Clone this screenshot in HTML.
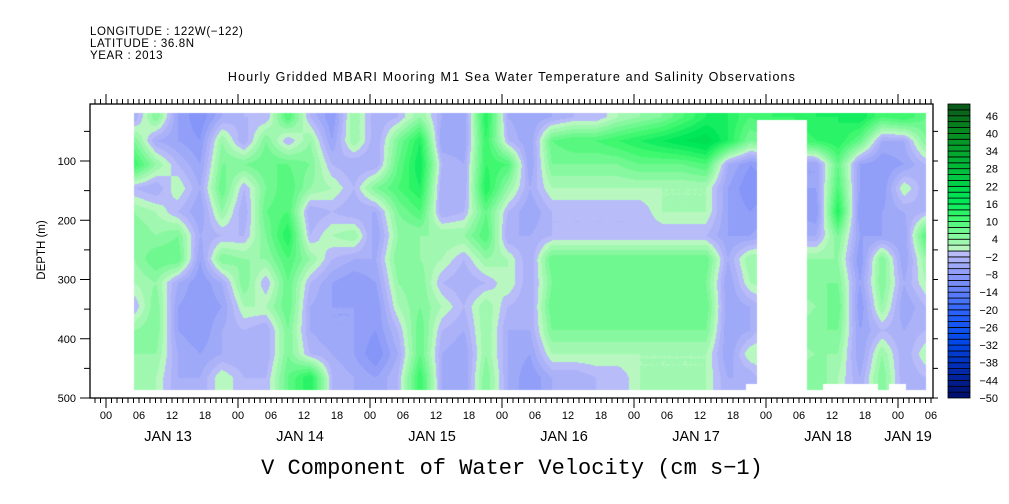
<!DOCTYPE html>
<html><head><meta charset="utf-8"><style>
html,body{margin:0;padding:0;background:#fff;}
#wrap{position:relative;width:1009px;height:504px;overflow:hidden;font-family:"Liberation Sans",sans-serif;}
#cv{position:absolute;left:0;top:0;}
svg{position:absolute;left:0;top:0;}
</style></head><body>
<div id="wrap">
<canvas id="cv" width="1009" height="504"></canvas>
<svg id="sv" width="1009" height="504">
<g font-size="11.5" fill="#000" letter-spacing="0.6">
<text x="90" y="35">LONGITUDE : 122W(−122)</text>
<text x="90" y="47">LATITUDE : 36.8N</text>
<text x="90" y="59">YEAR : 2013</text>
</g>
<text x="512" y="81" font-size="12.5" letter-spacing="1.15" text-anchor="middle">Hourly Gridded MBARI Mooring M1 Sea Water Temperature and Salinity Observations</text>
<text x="512" y="474" font-size="22" font-family="Liberation Mono,monospace" text-anchor="middle">V Component of Water Velocity (cm s−1)</text>
<text transform="translate(45,250) rotate(-90)" font-size="11.5" text-anchor="middle">DEPTH (m)</text>
<g id="axes"></g>
</svg>
</div>
<script>
// ---- data: columns every 4 hours from Jan13 05:00, rows at depths ----
const hours = [5,9,13,17,21,25,29,33,37,41,45,49,53,57,61,65,69,73,77,81,85,89,93,97,101,105,109,113,117,121,125,129,133,137,141,145,149];
const depths = [25,65,105,145,185,225,265,305,345,385,425,465];
const colProfiles = [
[-4,6,12,-2,4,6,4,2,-2,4,4,4],
[6,-4,4,-4,2,4,8,4,6,6,4,2],
[-6,-6,-2,2,-2,6,8,-4,-6,-6,-4,-4],
[-10,-8,-6,-4,-6,-4,-6,-8,-8,-8,-6,-4],
[-4,4,6,8,4,-2,6,-4,-6,-4,-4,2],
[-2,-4,6,-2,-4,-2,4,6,2,-2,-4,-2],
[-2,6,8,6,8,6,4,-2,2,-4,-4,-2],
[10,-2,8,10,10,14,10,8,8,6,6,8],
[-2,4,6,4,-4,-2,4,-2,-4,-4,-2,14],
[-8,-6,-2,2,-2,2,-2,-6,-6,-6,-4,-2],
[4,4,-4,-2,-4,4,-4,-8,-6,-6,-6,-4],
[-4,-4,-4,6,-4,-6,-4,-6,-8,-8,-10,-6],
[-2,6,8,10,6,4,6,4,2,-2,-4,-2],
[4,14,16,14,10,4,4,6,6,8,8,12],
[-4,-6,-2,-4,-4,4,2,-2,2,-2,-4,-4],
[-6,-6,-4,-4,-2,4,-2,-4,-2,-4,-6,-6],
[14,12,12,14,8,10,4,-2,4,4,4,6],
[-4,-2,10,4,-2,-4,2,2,-2,-4,-4,-4],
[-6,-6,-6,-4,-6,-4,-4,-4,-4,-4,-6,-8],
[-4,8,6,2,-2,-2,8,6,8,6,2,-4],
[-2,10,6,2,-2,-2,8,6,8,6,2,-4],
[-2,10,6,2,-2,-2,8,6,8,6,2,-2],
[2,12,6,2,-2,-2,8,6,8,6,2,-2],
[4,14,8,2,-2,-2,8,6,8,6,2,2],
[6,16,8,2,2,-2,8,6,8,6,2,2],
[10,18,8,2,2,-2,8,6,8,6,2,2],
[14,20,10,2,2,-2,8,6,8,6,2,2],
[14,14,-4,-6,-6,-6,-4,-6,-6,-6,-6,-4],
[10,6,-8,-10,-8,-6,4,2,-4,-4,2,-4],
[12,8,-6,-8,-6,-4,4,4,0,2,2,2],
[12,10,-6,-6,-6,-4,4,5,2,4,3,4],
[14,12,-6,-6,-8,-4,4,6,4,6,4,6],
[14,14,8,10,14,6,4,6,8,6,4,2],
[16,8,-6,-6,-8,-6,-8,-6,-8,-6,-6,-4],
[10,-4,-8,-8,-6,-6,6,6,4,-2,4,6],
[12,-4,-6,2,-4,-6,-6,-4,-6,-4,-4,-4],
[8,6,-2,-4,-2,10,4,2,-2,-2,2,-2]
];
const hourTickLabels = ["00","06","12","18"];
const dayLabels = ["JAN 13","JAN 14","JAN 15","JAN 16","JAN 17","JAN 18","JAN 19"];
const depthTicks = [100,200,300,400,500];
const cbarLabels = [-50,-44,-38,-32,-26,-20,-14,-8,-2,4,10,16,22,28,34,40,46];

// ---- scales ----
const X0=106, PXH=5.5;
function xOf(h){return X0+h*PXH;}
function yOf(d){return 101.75+d*0.5925;}
function hOf(x){return (x-X0)/PXH;}
function dOf(y){return (y-101.75)/0.5925;}
const FL=90, FR=933, FT=104, FB=398;

// ---- color scale ----
const posStops=[[0,[184,248,192]],[4,[136,248,160]],[10,[64,248,112]],[16,[0,232,88]],[28,[0,184,56]],[40,[8,136,32]],[50,[10,80,24]]];
const negStops=[[0,[184,188,248]],[-10,[120,140,248]],[-20,[40,96,248]],[-30,[0,72,232]],[-40,[0,40,168]],[-50,[0,10,96]]];
function interpStops(st,v){
  for(let i=0;i<st.length-1;i++){const a=st[i],b=st[i+1];
    if((v-a[0])*(v-b[0])<=0){const t=(v-a[0])/(b[0]-a[0]);return a[1].map((c,k)=>Math.round(c+(b[1][k]-c)*t));}}
  return st[st.length-1][1];
}
function binColor(lo){
  if(lo>=0) return interpStops(posStops,lo);
  return interpStops(negStops,lo+2);
}
function rgb(c){return 'rgb('+c.join(',')+')';}

// ---- heatmap ----
const cv=document.getElementById('cv'),ctx=cv.getContext('2d');
const x1=Math.round(xOf(hours[0])), x2=Math.round(xOf(hours[hours.length-1]))-1;
const y1=Math.round(yOf(depths[0]))-4, y2=389;
const img=ctx.createImageData(1009,504);
function sample(h,d){
  let ci=0;while(ci<hours.length-2&&h>hours[ci+1])ci++;
  let ri=0;while(ri<depths.length-2&&d>depths[ri+1])ri++;
  let tx=(h-hours[ci])/(hours[ci+1]-hours[ci]);tx=Math.max(0,Math.min(1,tx));
  let ty=(d-depths[ri])/(depths[ri+1]-depths[ri]);ty=Math.max(0,Math.min(1,ty));
  const a=colProfiles[ci][ri],b=colProfiles[ci+1][ri],c=colProfiles[ci][ri+1],e=colProfiles[ci+1][ri+1];
  return a*(1-tx)*(1-ty)+b*tx*(1-ty)+c*(1-tx)*ty+e*tx*ty;
}
function masked(x,y){
  if(x>=757&&x<807&&y>=120)return true;
  if(y>=384&&((x>=746&&x<757)||(x>=823&&x<878)||(x>=889&&x<906)))return true;
  return false;
}
for(let y=y1;y<=y2;y++){for(let x=x1;x<=x2;x++){
  if(masked(x,y))continue;
  const v=sample(hOf(x),dOf(y));
  const lo=Math.max(-50,Math.min(48,Math.floor(v/2)*2));
  const c=binColor(lo);const i=(y*1009+x)*4;
  img.data[i]=c[0];img.data[i+1]=c[1];img.data[i+2]=c[2];img.data[i+3]=255;
}}
ctx.putImageData(img,0,0);

// ---- axes ----
const g=document.getElementById('axes');const NS='http://www.w3.org/2000/svg';
function mk(tag,attrs,txt){const e=document.createElementNS(NS,tag);for(const k in attrs)e.setAttribute(k,attrs[k]);if(txt!==undefined)e.textContent=txt;g.appendChild(e);return e;}
let e=mk('rect',{x:FL,y:FT,width:FR-FL,height:FB-FT,fill:'none',stroke:'#000','stroke-width':1.3});


let tp='';
for(let h=-2;h<=150;h++){const x=xOf(h);if(x<FL||x>FR)continue;
  const big=(h%24===0);
  tp+='M'+x+' '+FT+'V'+(FT-(big?10:5))+'M'+x+' '+FB+'V'+(FB+(big?10:5));}
for(let d=50;d<=500;d+=50){const y=yOf(d);if(y<FT)continue;tp+='M'+FL+' '+y+'H'+(FL-(d%100===0?10:6))+'M'+FR+' '+y+'H'+(FR+5);}
e=mk('path',{d:tp,stroke:'#000','stroke-width':1,fill:'none'});


for(let h=0;h<=150;h+=6){
  e=mk('text',{x:xOf(h),y:419,'font-size':11,'text-anchor':'middle'},hourTickLabels[(h/6)%4]);
  
  
}
dayLabels.forEach((lab,i)=>{
  let cx=xOf(i*24+12)-4;
  if(cx>FR-40) cx=xOf(i*24)+10;
  e=mk('text',{x:cx,y:441,'font-size':14.5,'text-anchor':'middle'},lab);
  
  
});
depthTicks.forEach(d=>{
  e=mk('text',{x:76,y:yOf(d)+4,'font-size':11,'text-anchor':'end'},String(d));
  
  
});
const CB_L=948,CB_R=970,CB_T=104,CB_B=398,NB=50,bh=(CB_B-CB_T)/NB;
for(let i=0;i<NB;i++){const lo=-50+i*2;
  e=mk('rect',{x:CB_L,y:CB_B-(i+1)*bh,width:CB_R-CB_L,height:bh,fill:rgb(binColor(lo)),stroke:'#000','stroke-width':0.8});
  
  
}
cbarLabels.forEach(v=>{
  const y=CB_B-(v+50)/2*bh;
  e=mk('text',{x:998,y:y+4,'font-size':11,'text-anchor':'end'},v<0?'−'+(-v):String(v));
  
  
});
</script>
</body></html>
